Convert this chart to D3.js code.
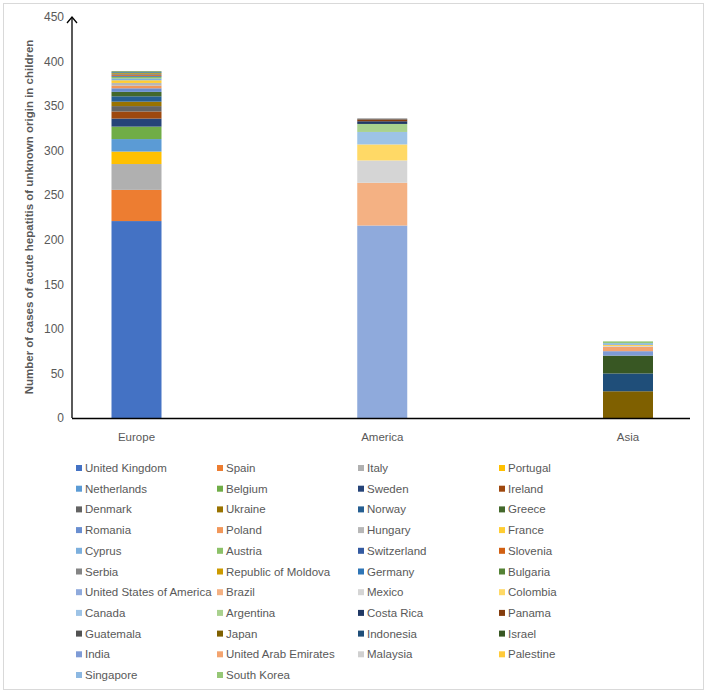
<!DOCTYPE html>
<html>
<head>
<meta charset="utf-8">
<script src="https://cdn.jsdelivr.net/npm/d3@7"></script>
<style>
  body { margin: 0; background: #fff; }
  text { font-family: "Liberation Sans", Arial, sans-serif; }
</style>
</head>
<body>
<script>
const width = 708,
      height = 694

// regions on the x axis
const regions = ['Europe', 'America', 'Asia']

// countries, in legend order, with the region they belong to
const countries = [
  'United Kingdom', 'Spain', 'Italy', 'Portugal', 'Netherlands', 'Belgium', 'Sweden', 'Ireland',
  'Denmark', 'Ukraine', 'Norway', 'Greece', 'Romania', 'Poland', 'Hungary', 'France',
  'Cyprus', 'Austria', 'Switzerland', 'Slovenia', 'Serbia', 'Republic of Moldova', 'Germany', 'Bulgaria',
  'United States of America', 'Brazil', 'Mexico', 'Colombia', 'Canada', 'Argentina', 'Costa Rica', 'Panama',
  'Guatemala', 'Japan', 'Indonesia', 'Israel', 'India', 'United Arab Emirates', 'Malaysia', 'Palestine',
  'Singapore', 'South Korea'
]
const countryRegion = [
  'Europe', 'Europe', 'Europe', 'Europe', 'Europe', 'Europe', 'Europe', 'Europe',
  'Europe', 'Europe', 'Europe', 'Europe', 'Europe', 'Europe', 'Europe', 'Europe',
  'Europe', 'Europe', 'Europe', 'Europe', 'Europe', 'Europe', 'Europe', 'Europe',
  'America', 'America', 'America', 'America', 'America', 'America', 'America', 'America',
  'America', 'Asia', 'Asia', 'Asia', 'Asia', 'Asia', 'Asia', 'Asia',
  'Asia', 'Asia'
]
// cases per country
const cases = [
  221, 35, 29, 14, 14, 14, 9, 8,
  6, 5, 6, 5, 4, 3, 3, 3,
  2, 2, 1, 1, 1, 1, 1, 1,
  216, 48, 25, 18, 14, 9, 3, 2,
  1, 30, 20, 20, 5, 5, 1, 1,
  2, 2
]
const yTicks = [0, 50, 100, 150, 200, 250, 300, 350, 400, 450]

const colorList = [
  '#4472C4', '#ED7D31', '#B0B0B0', '#FFC000', '#5B9BD5', '#70AD47', '#264478', '#9E480E',
  '#636363', '#997300', '#255E91', '#43682B', '#698ED0', '#F1975A', '#B7B7B7', '#FFCD33',
  '#7CAFDD', '#8CC168', '#335AA1', '#D26012', '#848484', '#CC9A00', '#2E75B6', '#548235',
  '#8FAADC', '#F4B183', '#D5D5D5', '#FFD966', '#9DC3E6', '#A9D18E', '#203864', '#843C0C',
  '#525252', '#7F6000', '#1F4E79', '#385723', '#7E9BD6', '#F3A46F', '#D0D0D0', '#FFCA3A',
  '#8CB8E2', '#96C776'
]

const colors = d3.scaleOrdinal().domain(countries).range(colorList)

const svg = d3.select('body').append('svg')
    .attr('width', width)
    .attr('height', height)

// outer frame
svg.append('rect')
    .attr('x', 3.5).attr('y', 3.5)
    .attr('width', 700).attr('height', 686)
    .attr('fill', 'none')
    .attr('stroke', '#d9d9d9')

const x = d3.scalePoint()
    .domain(regions)
    .range([136.5, 628])

const y = d3.scaleLinear()
    .domain([0, 450])
    .range([418, 17])

const barWidth = 50

// build stacked segments per region
const segments = []
const running = {}
regions.forEach(r => { running[r] = 0 })
countries.forEach((c, i) => {
    const r = countryRegion[i]
    segments.push({ country: c, region: r, y0: running[r], y1: running[r] + cases[i] })
    running[r] += cases[i]
})

svg.selectAll('rect.seg')
    .data(segments)
    .enter()
    .append('rect')
        .attr('class', 'seg')
        .attr('x', d => x(d.region) - barWidth / 2)
        .attr('width', barWidth)
        .attr('y', d => y(d.y1))
        .attr('height', d => y(d.y0) - y(d.y1))
        .attr('fill', d => colors(d.country))

// y axis with arrow head
const axisX = 72
svg.append('line')
    .attr('x1', axisX).attr('x2', axisX)
    .attr('y1', y(0)).attr('y2', y(450))
    .attr('stroke', '#000')
    .attr('stroke-width', 1.3)

svg.append('path')
    .attr('d', `M${axisX - 5},${y(450) + 6} L${axisX},${y(450)} L${axisX + 5},${y(450) + 6}`)
    .attr('fill', 'none')
    .attr('stroke', '#000')
    .attr('stroke-width', 1.3)

svg.selectAll('text.ytick')
    .data(yTicks)
    .enter()
    .append('text')
        .attr('class', 'ytick')
        .attr('x', 64)
        .attr('y', d => y(d))
        .attr('dy', '0.35em')
        .attr('text-anchor', 'end')
        .style('font-size', '12px')
        .style('fill', '#595959')
        .text(d => d)

// x axis
svg.append('line')
    .attr('x1', axisX).attr('x2', 690)
    .attr('y1', y(0) + 0.5).attr('y2', y(0) + 0.5)
    .attr('stroke', '#000')
    .attr('stroke-width', 1.3)

svg.selectAll('text.xtick')
    .data(regions)
    .enter()
    .append('text')
        .attr('class', 'xtick')
        .attr('x', d => x(d))
        .attr('y', 441)
        .attr('text-anchor', 'middle')
        .style('font-size', '11.5px')
        .style('fill', '#595959')
        .text(d => d)

svg.append('text')
    .attr('transform', 'translate(33,' + 217 + ') rotate(-90)')
    .attr('text-anchor', 'middle')
    .style('font-size', '11.5px')
    .style('font-weight', 'bold')
    .style('fill', '#595959')
    .text('Number of cases of acute hepatitis of unknown origin in children')

// legend: 4 columns
const colX = [76, 217, 358, 499]
const legend = svg.selectAll('g.legend')
    .data(countries)
    .enter()
    .append('g')
        .attr('class', 'legend')
        .attr('transform', (d, i) => 'translate(' + colX[i % 4] + ',' + (468 + Math.floor(i / 4) * 20.7) + ')')

legend.append('rect')
    .attr('x', 0).attr('y', -3)
    .attr('width', 6).attr('height', 6)
    .attr('fill', d => colors(d))

legend.append('text')
    .attr('x', 9)
    .attr('y', 0)
    .attr('dy', '0.35em')
    .style('font-size', '11.5px')
    .style('fill', '#595959')
    .text(d => d)
</script>
</body>
</html>
